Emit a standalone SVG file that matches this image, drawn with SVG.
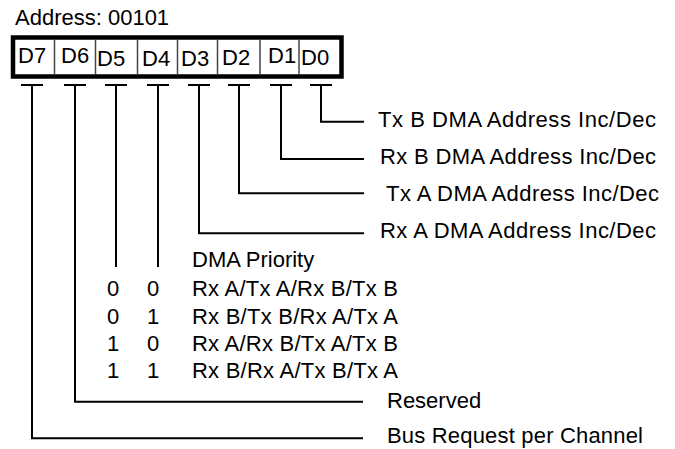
<svg xmlns="http://www.w3.org/2000/svg" width="675" height="449" viewBox="0 0 675 449">
<style>
text{font-family:"Liberation Sans",Arial,sans-serif;font-size:22px;fill:#000}
.ln{fill:none;stroke:#000;stroke-width:2;stroke-linecap:square}
.div{stroke:#444;stroke-width:1.5}
</style>
<rect width="675" height="449" fill="#fff"/>
<g id="title"><text x="15" y="25">Address: 00101</text></g>
<g id="register">
<rect x="13" y="37.5" width="328.5" height="39" fill="#fff" stroke="#000" stroke-width="4.5"/>
<line class="div" x1="54.5" y1="40" x2="54.5" y2="74"/>
<line class="div" x1="95.5" y1="40" x2="95.5" y2="74"/>
<line class="div" x1="137.5" y1="40" x2="137.5" y2="74"/>
<line class="div" x1="177.5" y1="40" x2="177.5" y2="74"/>
<line class="div" x1="217.5" y1="40" x2="217.5" y2="74"/>
<line class="div" x1="260" y1="40" x2="260" y2="74"/>
<line class="div" x1="299" y1="40" x2="299" y2="74"/>
</g>
<g id="bit-d7"><text x="18" y="63">D7</text></g>
<g id="bit-d6"><text x="61" y="63">D6</text></g>
<g id="bit-d5"><text x="97" y="66">D5</text></g>
<g id="bit-d4"><text x="142" y="66">D4</text></g>
<g id="bit-d3"><text x="181" y="66">D3</text></g>
<g id="bit-d2"><text x="222" y="65">D2</text></g>
<g id="bit-d1"><text x="268" y="63">D1</text></g>
<g id="bit-d0"><text x="301" y="65">D0</text></g>
<g id="connectors">
<path class="ln" d="M311 85H331M321 85V121.7H363"/>
<path class="ln" d="M271 85H291M281 85V159H363"/>
<path class="ln" d="M229 85H249M239 85V193.3H363"/>
<path class="ln" d="M189 85H209M199 85V233.3H363"/>
<path class="ln" d="M148 85H168M158 85V266"/>
<path class="ln" d="M106 85H126M116 85V266"/>
<path class="ln" d="M65 85H85M75 85V401.7H362"/>
<path class="ln" d="M22 85H42M32 85V438.3H362"/>
</g>
<g id="label-d0"><text x="378" y="127" textLength="278" lengthAdjust="spacing">Tx B DMA Address Inc/Dec</text></g>
<g id="label-d1"><text x="380" y="164" textLength="276" lengthAdjust="spacing">Rx B DMA Address Inc/Dec</text></g>
<g id="label-d2"><text x="386" y="201" textLength="273" lengthAdjust="spacing">Tx A DMA Address Inc/Dec</text></g>
<g id="label-d3"><text x="380" y="238" textLength="276" lengthAdjust="spacing">Rx A DMA Address Inc/Dec</text></g>
<g id="label-priority">
<text x="192" y="267">DMA Priority</text>
<text x="107" y="296">0</text><text x="147" y="296">0</text><text x="192" y="296" textLength="206" lengthAdjust="spacing">Rx A/Tx A/Rx B/Tx B</text>
<text x="107" y="324">0</text><text x="147" y="324">1</text><text x="192" y="324" textLength="206" lengthAdjust="spacing">Rx B/Tx B/Rx A/Tx A</text>
<text x="107" y="351">1</text><text x="147" y="351">0</text><text x="192" y="351" textLength="206" lengthAdjust="spacing">Rx A/Rx B/Tx A/Tx B</text>
<text x="107" y="378">1</text><text x="147" y="378">1</text><text x="192" y="378" textLength="206" lengthAdjust="spacing">Rx B/Rx A/Tx B/Tx A</text>
</g>
<g id="label-d6"><text x="387" y="408">Reserved</text></g>
<g id="label-d7"><text x="387" y="443" textLength="256" lengthAdjust="spacing">Bus Request per Channel</text></g>
</svg>
